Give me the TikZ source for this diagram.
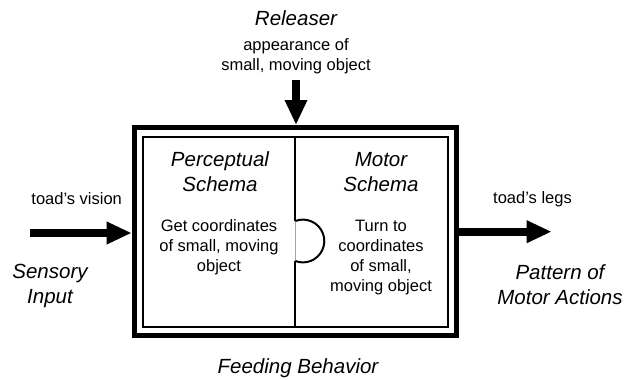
\documentclass[tikz,border=0pt]{standalone}
\usepackage{fontspec}
\setmainfont{Liberation Sans}
\usetikzlibrary{arrows.meta}
\begin{document}
\begin{tikzpicture}[x=1pt,y=-1pt,
  body/.style={font=\fontsize{16.5}{20}\selectfont, align=center, inner sep=0pt},
  ital/.style={font=\fontsize{20.5}{25}\selectfont\itshape, align=center, inner sep=0pt},
  bigarrow/.style={line width=8pt, -{Triangle[length=25pt,width=21pt]}},
  frame/.style={draw, rectangle, inner sep=0pt},
]
\useasboundingbox (0,0) rectangle (629,380);
% boxes
\node[frame, line width=5pt, minimum width=322.3pt, minimum height=207.5pt] (outer) at (295.35,231.25) {};
\node[frame, line width=2pt, minimum width=305pt, minimum height=190.2pt] (inner) at (295.8,231.6) {};
% divider with hidden part behind the socket
\coordinate (dtop) at (295.3,136.5);
\coordinate (dup) at (295.3,221);
\coordinate (dlow) at (295.3,261);
\coordinate (dbot) at (295.3,326.7);
\draw[line width=2pt] (dtop) -- (dup);
\draw[line width=2pt] (dlow) -- (dbot);
\draw[line width=0.7pt, black!35] (dup) -- (dlow);
\draw[line width=2pt] (dup) arc[start angle=-110.8, end angle=110.8, radius=21.4];
% texts
\node[ital] (releaser) at (296,18.3) {Releaser};
\node[body] (appear) at (296,56.7) {appearance of\\small, moving object};
\node[body] (vision) at (76.7,198.3) {toad’s vision};
\node[ital] (sensory) at (50,286) {Sensory\\Input};
\node[body] (legs) at (532.5,199) {toad’s legs};
\node[ital] (pattern) at (560,285) {Pattern of\\Motor Actions};
\node[ital] (feeding) at (298,368) {Feeding Behavior};
\node[ital] (ptitle) at (220,172) {Perceptual\\Schema};
\node[ital] (mtitle) at (381,172) {Motor\\Schema};
\node[body] (pbody) at (219,247.5) {Get coordinates\\of small, moving\\object};
\node[body] (mbody) at (381,258) {Turn to\\coordinates\\of small,\\moving object};
% arrows
\coordinate (insrc) at (30,233);
\coordinate (relsrc) at (296,80);
\coordinate (outdst) at (551.7,231.7);
\draw[bigarrow] (insrc) -- (insrc -| outer.west);
\draw[bigarrow] (relsrc) -- (relsrc |- outer.north);
\draw[bigarrow] (outdst -| outer.east) -- (outdst);
\end{tikzpicture}
\end{document}
